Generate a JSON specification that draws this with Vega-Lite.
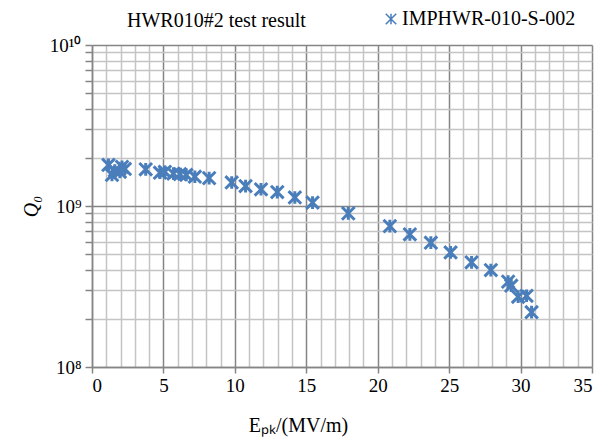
{
  "$schema": "https://vega.github.io/schema/vega-lite/v6.json",
  "width": 500,
  "height": 322,
  "autosize": "none",
  "padding": {"left": 92, "top": 45, "right": 21, "bottom": 71},
  "background": "white",
  "title": {"text": "HWR010#2 test result", "anchor": "start", "frame": "group", "dx": 35, "offset": 0, "dy": 22, "font": "Liberation Serif", "fontSize": 20, "fontWeight": "normal", "color": "#000"},
  "config": {"view": {"stroke": null}},
  "data": {"values": [
    {"series": "IMPHWR-010-S-002", "E": 1.15, "Q": 1.80e9},
    {"series": "IMPHWR-010-S-002", "E": 1.4, "Q": 1.56e9},
    {"series": "IMPHWR-010-S-002", "E": 1.6, "Q": 1.66e9},
    {"series": "IMPHWR-010-S-002", "E": 1.95, "Q": 1.63e9},
    {"series": "IMPHWR-010-S-002", "E": 2.1, "Q": 1.75e9},
    {"series": "IMPHWR-010-S-002", "E": 2.3, "Q": 1.70e9},
    {"series": "IMPHWR-010-S-002", "E": 3.76, "Q": 1.69e9},
    {"series": "IMPHWR-010-S-002", "E": 4.76, "Q": 1.61e9},
    {"series": "IMPHWR-010-S-002", "E": 5.1, "Q": 1.63e9},
    {"series": "IMPHWR-010-S-002", "E": 5.7, "Q": 1.59e9},
    {"series": "IMPHWR-010-S-002", "E": 6.16, "Q": 1.58e9},
    {"series": "IMPHWR-010-S-002", "E": 6.6, "Q": 1.56e9},
    {"series": "IMPHWR-010-S-002", "E": 7.2, "Q": 1.52e9},
    {"series": "IMPHWR-010-S-002", "E": 8.2, "Q": 1.49e9},
    {"series": "IMPHWR-010-S-002", "E": 9.78, "Q": 1.40e9},
    {"series": "IMPHWR-010-S-002", "E": 10.75, "Q": 1.33e9},
    {"series": "IMPHWR-010-S-002", "E": 11.83, "Q": 1.27e9},
    {"series": "IMPHWR-010-S-002", "E": 12.97, "Q": 1.22e9},
    {"series": "IMPHWR-010-S-002", "E": 14.2, "Q": 1.13e9},
    {"series": "IMPHWR-010-S-002", "E": 15.44, "Q": 1.05e9},
    {"series": "IMPHWR-010-S-002", "E": 17.94, "Q": 9.0e8},
    {"series": "IMPHWR-010-S-002", "E": 20.85, "Q": 7.5e8},
    {"series": "IMPHWR-010-S-002", "E": 22.25, "Q": 6.67e8},
    {"series": "IMPHWR-010-S-002", "E": 23.72, "Q": 5.92e8},
    {"series": "IMPHWR-010-S-002", "E": 25.1, "Q": 5.15e8},
    {"series": "IMPHWR-010-S-002", "E": 26.57, "Q": 4.47e8},
    {"series": "IMPHWR-010-S-002", "E": 27.92, "Q": 4.0e8},
    {"series": "IMPHWR-010-S-002", "E": 29.13, "Q": 3.39e8},
    {"series": "IMPHWR-010-S-002", "E": 29.35, "Q": 3.2e8},
    {"series": "IMPHWR-010-S-002", "E": 29.83, "Q": 2.73e8},
    {"series": "IMPHWR-010-S-002", "E": 30.42, "Q": 2.77e8},
    {"series": "IMPHWR-010-S-002", "E": 30.77, "Q": 2.19e8}
  ]},
  "mark": {"type": "point", "filled": false, "strokeWidth": 3, "size": 160, "opacity": 1},
  "encoding": {
    "x": {
      "field": "E", "type": "quantitative",
      "scale": {"domain": [0, 35], "nice": false, "zero": false},
      "axis": {
        "values": [0,1,2,3,4,5,6,7,8,9,10,11,12,13,14,15,16,17,18,19,20,21,22,23,24,25,26,27,28,29,30,31,32,33,34,35],
        "labelExpr": "datum.value % 5 === 0 ? datum.label : ''",
        "grid": true,
        "gridColor": {"condition": {"test": "datum.value % 5 === 0", "value": "#858585"}, "value": "#c4c4c4"},
        "gridWidth": 1.5,
        "tickColor": "#858585",
        "tickOpacity": {"condition": {"test": "datum.value % 5 === 0", "value": 1}, "value": 0},
        "tickSize": 6,
        "tickWidth": 1.5,
        "domainColor": "#858585",
        "domainWidth": 1.5,
        "labelFont": "Liberation Serif",
        "labelFontSize": 19,
        "labelColor": "#000",
        "labelPadding": 3,
        "title": "Eₚₖ/(MV/m)",
        "titleFont": "Liberation Serif",
        "titleFontSize": 20,
        "titleFontWeight": "normal",
        "titleColor": "#000",
        "titleX": 206,
        "titleY": 64,
        "titleAlign": "center",
        "titleBaseline": "alphabetic"
      }
    },
    "y": {
      "field": "Q", "type": "quantitative",
      "scale": {"type": "log", "domain": [1e8, 1e10], "nice": false},
      "axis": {
        "values": [1e8,2e8,3e8,4e8,5e8,6e8,7e8,8e8,9e8,1e9,2e9,3e9,4e9,5e9,6e9,7e9,8e9,9e9,1e10],
        "labelExpr": "datum.value == 1e8 ? '10⁸' : datum.value == 1e9 ? '10⁹' : datum.value == 1e10 ? '10¹⁰' : ''",
        "grid": true,
        "gridColor": {"condition": {"test": "datum.value == 1e8 || datum.value == 1e9 || datum.value == 1e10", "value": "#858585"}, "value": "#c4c4c4"},
        "gridWidth": 1.5,
        "tickColor": "#858585",
        "tickSize": 7,
        "tickWidth": 1.5,
        "domainColor": "#858585",
        "domainWidth": 1.5,
        "labelFont": "Liberation Serif",
        "labelFontSize": 19,
        "labelColor": "#000",
        "labelPadding": 4,
        "title": "Q₀",
        "titleFont": "Liberation Serif",
        "titleFontSize": 20,
        "titleFontStyle": "italic",
        "titleFontWeight": "normal",
        "titleColor": "#000",
        "titlePadding": 8
      }
    },
    "color": {
      "field": "series", "type": "nominal",
      "scale": {"range": ["#4a7ebb"]},
      "legend": {
        "orient": "none", "legendX": 289, "legendY": -36, "title": null,
        "labelFont": "Liberation Serif", "labelFontSize": 20, "labelColor": "#000", "labelLimit": 400,
        "symbolSize": 110, "symbolStrokeWidth": 1.5, "labelOffset": 1
      }
    },
    "shape": {
      "field": "series", "type": "nominal",
      "scale": {"range": ["M-1,-1L1,1M-1,1L1,-1M0,-1L0,1"]},
      "legend": null
    }
  }
}
